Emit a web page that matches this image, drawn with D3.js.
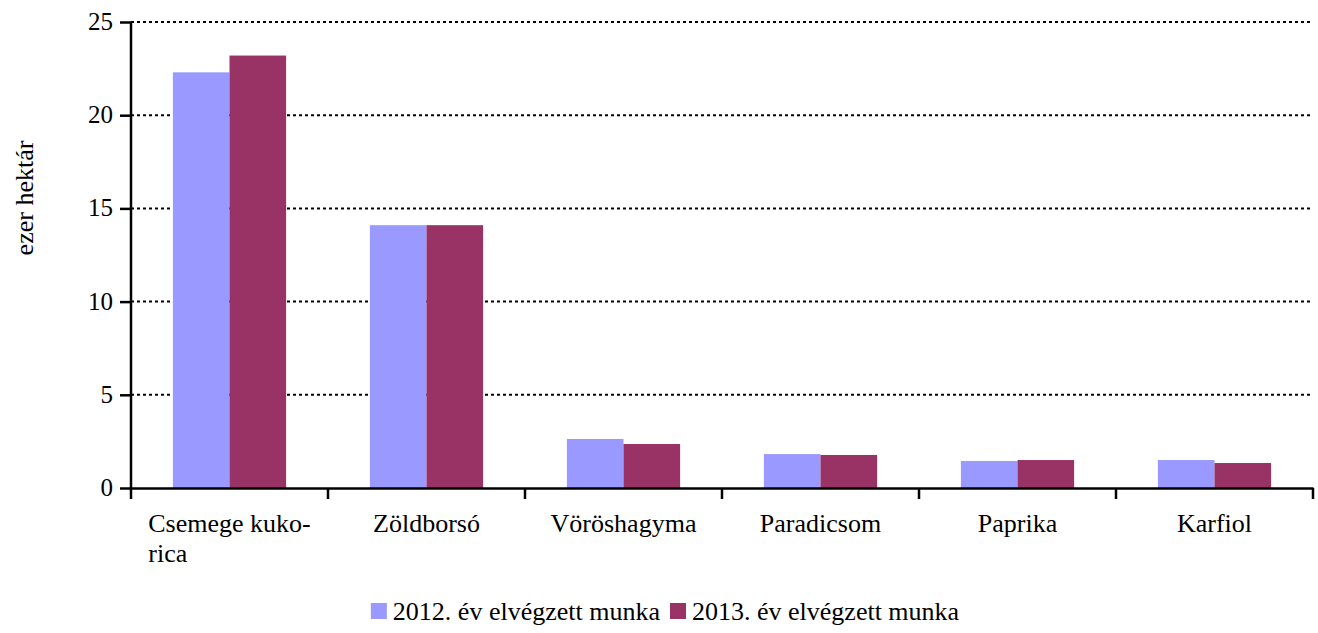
<!DOCTYPE html>
<html><head><meta charset="utf-8"><script src="https://cdn.jsdelivr.net/npm/d3@7"></script></head>
<body style="margin:0">
<script>
// data
const categories = ['Csemege kuko-|rica', 'Zöldborsó', 'Vöröshagyma', 'Paradicsom', 'Paprika', 'Karfiol'];
const values2012 = [22.3, 14.1, 2.63, 1.82, 1.45, 1.5];
const values2013 = [23.2, 14.1, 2.36, 1.77, 1.5, 1.34];
const seriesNames = ['2012. év elvégzett munka', '2013. év elvégzett munka'];
const seriesColors = ['#9999ff', '#993366'];
const yTicks = [0, 5, 10, 15, 20, 25];

const FONT = "'Liberation Serif'";

const W = 1318, H = 633;
const margin = { top: 22, right: 5, bottom: 145, left: 131 };
const width = W - margin.left - margin.right;
const height = H - margin.top - margin.bottom;

const rows = categories.map((c, i) => ({ cat: c, values: [values2012[i], values2013[i]] }));

const svg = d3.select('body')
    .append('svg')
    .attr('width', W)
    .attr('height', H);

const g = svg.append('g')
    .attr('transform', `translate(${margin.left}, ${margin.top})`);

function label(parent, x, y, str, size, anchor) {
    return parent.append('text')
        .attr('x', x)
        .attr('y', y)
        .attr('font-size', size)
        .attr('fill', '#000')
        .attr('text-anchor', anchor || 'start')
        .style('font-family', FONT)
        .text(str);
}

// scales
const xScale = d3.scaleBand()
    .domain(categories)
    .range([0, width])
    .paddingInner(0)
    .paddingOuter(0);

const xInner = d3.scaleBand()
    .domain([0, 1])
    .range([0, xScale.bandwidth()])
    .paddingOuter(0.74)
    .paddingInner(0);

const yScale = d3.scaleLinear()
    .domain([0, 25])
    .range([height, 0]);

// gridlines
g.selectAll('.grid')
    .data(yTicks.filter(d => d > 0))
    .enter()
    .append('line')
    .attr('x1', 0)
    .attr('x2', width)
    .attr('y1', d => yScale(d))
    .attr('y2', d => yScale(d))
    .attr('stroke', '#000')
    .attr('stroke-width', 2)
    .attr('stroke-dasharray', '3,3');

// bars
const groups = g.selectAll('.grp')
    .data(rows)
    .enter()
    .append('g')
    .attr('transform', d => `translate(${xScale(d.cat)}, 0)`);

groups.selectAll('rect')
    .data(d => d.values.map((v, i) => ({ v, i })))
    .enter()
    .append('rect')
    .attr('x', d => xInner(d.i))
    .attr('y', d => yScale(d.v))
    .attr('width', xInner.bandwidth())
    .attr('height', d => height - yScale(d.v))
    .attr('fill', d => seriesColors[d.i]);

// y axis, labels drawn by hand so the font sticks
const yAxis = d3.axisLeft(yScale)
    .tickValues(yTicks)
    .tickSize(11)
    .tickFormat('');

const yAxisDraw = g.append('g').call(yAxis);
yAxisDraw.select('.domain').attr('stroke-width', 2.5).attr('d', `M0,${height}V0`);
yAxisDraw.selectAll('.tick line').attr('stroke-width', 2.5);
yTicks.forEach(t => label(yAxisDraw, -18, yScale(t) + 8, String(t), 25, 'end'));

// x axis
const xAxis = d3.axisBottom(xScale)
    .tickValues([])
    .tickSizeOuter(0);

const xAxisDraw = g.append('g')
    .attr('transform', `translate(0, ${height})`)
    .call(xAxis);
xAxisDraw.select('.domain').attr('stroke-width', 2.5);

// x ticks at band boundaries
const bounds = categories.map(c => xScale(c)).concat([width]);
xAxisDraw.selectAll('.bound')
    .data(bounds)
    .enter()
    .append('line')
    .attr('x1', d => d)
    .attr('x2', d => d)
    .attr('y1', 0)
    .attr('y2', 11)
    .attr('stroke', '#000')
    .attr('stroke-width', 2.5);

// x labels (second line left-aligned with the first)
categories.forEach(c => {
    const lines = c.split('|');
    const cx = xScale(c) + xScale.bandwidth() / 2;
    const t = label(xAxisDraw, cx, 44, lines[0], 26, 'middle');
    if (lines.length > 1) {
        const w = t.node().getComputedTextLength();
        label(xAxisDraw, cx - w / 2, 74, lines[1], 26, 'start');
    }
});

// y axis title
label(svg.append('g').attr('transform', 'translate(33, 198) rotate(-90)'), 0, 0, 'ezer hektár', 26, 'middle');

// legend, centred under the plot
const legend = svg.append('g');
let lx = 0;
seriesNames.forEach((name, i) => {
    const item = legend.append('g').attr('transform', `translate(${lx}, 0)`);
    item.append('rect')
        .attr('width', 16)
        .attr('height', 16)
        .attr('fill', seriesColors[i]);
    const t = label(item, 22, 17, name, 26);
    lx += 22 + t.node().getComputedTextLength() + 10;
});
const legendW = lx - 10;
legend.attr('transform', `translate(${665 - legendW / 2}, 603)`);
</script>
</body></html>
